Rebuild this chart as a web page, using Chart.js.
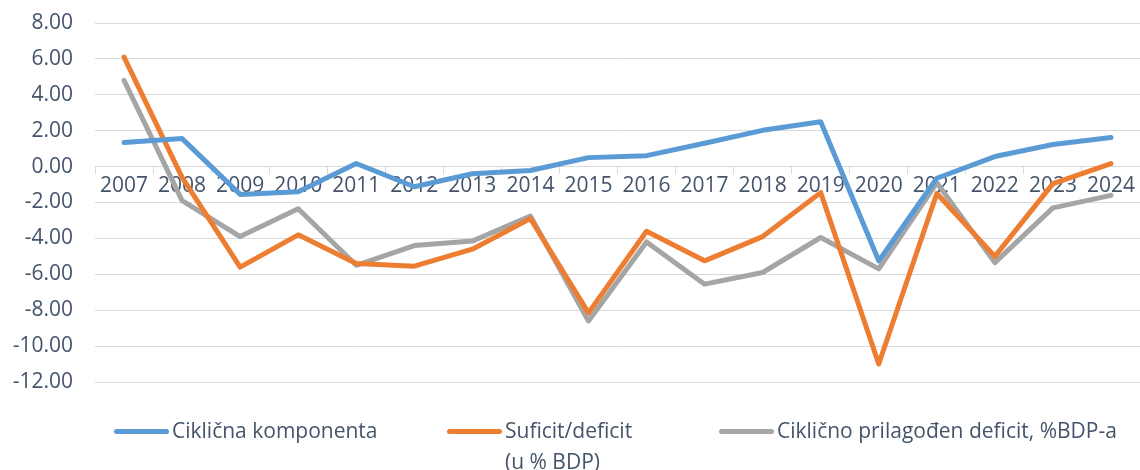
<!DOCTYPE html>
<html>
<head>
<meta charset="utf-8">
<script src="https://cdn.jsdelivr.net/npm/chart.js@4.4.1/dist/chart.umd.min.js"></script>
<style>
  body { margin: 0; background: #fff; }
  #wrap { position: relative; width: 1140px; height: 470px; font-family: "Open Sans", sans-serif; }
  .lg { position: absolute; color: #44546A; font-size: 21px; line-height: 31px; white-space: nowrap; }
  .sw { position: absolute; height: 5px; border-radius: 3px; }
</style>
</head>
<body>
<div id="wrap">
  <canvas id="chart" width="1140" height="470"></canvas>
  <span class="sw" style="left:114px;top:429px;width:55px;background:#5B9BD5"></span>
  <span class="lg" style="left:172px;top:415px">Ciklična komponenta</span>
  <span class="sw" style="left:447px;top:429px;width:55px;background:#ED7D31"></span>
  <span class="lg" style="left:505px;top:415px">Suficit/deficit<br>(u % BDP)</span>
  <span class="sw" style="left:719px;top:429px;width:55px;background:#A5A5A5"></span>
  <span class="lg" style="left:777px;top:415px">Ciklično prilagođen deficit, %BDP-a</span>
</div>
<script>
const years = ['2007', '2008', '2009', '2010', '2011', '2012', '2013', '2014', '2015', '2016', '2017', '2018', '2019', '2020', '2021', '2022', '2023', '2024'];
const ciklicna = [1.34, 1.56, -1.55, -1.4, 0.17, -1.12, -0.4, -0.22, 0.5, 0.61, 1.3, 2.02, 2.5, -5.25, -0.65, 0.56, 1.23, 1.62];
const suficit = [6.1, -0.6, -5.6, -3.8, -5.4, -5.55, -4.6, -2.9, -8.15, -3.6, -5.25, -3.9, -1.45, -11.0, -1.5, -5.0, -0.95, 0.17];
const prilagodjen = [4.8, -1.9, -3.9, -2.35, -5.5, -4.4, -4.15, -2.75, -8.6, -4.2, -6.55, -5.9, -3.95, -5.7, -0.9, -5.35, -2.3, -1.6];
const yTicksMin = -12;
const yTicksMax = 8;

const tickFont = { family: 'Open Sans', size: 21 };
const textColor = '#44546A';
const gridColor = '#D9D9D9';

function line(label, data, color) {
  return {
    label: label,
    data: data,
    borderColor: color,
    backgroundColor: color,
    borderWidth: 5,
    pointRadius: 0,
    tension: 0,
    borderCapStyle: 'round',
    borderJoinStyle: 'round'
  };
}

new Chart(document.getElementById('chart').getContext('2d'), {
  type: 'line',
  data: {
    labels: years,
    datasets: [
      line('Ciklična komponenta', ciklicna, '#5B9BD5'),
      line('Suficit/deficit (u % BDP)', suficit, '#ED7D31'),
      line('Ciklično prilagođen deficit, %BDP-a', prilagodjen, '#A5A5A5')
    ]
  },
  options: {
    responsive: false,
    animation: false,
    devicePixelRatio: 1,
    layout: { padding: { top: 23, bottom: 88, left: 0, right: 0 } },
    plugins: {
      legend: { display: false },
      tooltip: { enabled: false }
    },
    scales: {
      x: {
        type: 'category',
        position: { y: 0 },
        offset: true,
        grid: { drawOnChartArea: false, drawTicks: true, tickLength: 7, color: gridColor, offset: true },
        border: { color: gridColor, width: 1 },
        ticks: { color: textColor, font: tickFont, padding: 0, maxRotation: 0, autoSkip: false }
      },
      y: {
        min: yTicksMin,
        max: yTicksMax,
        afterFit: function(scale) {
          scale.width = 95;
          scale.paddingTop = 0;
          scale.paddingBottom = 0;
        },
        grid: { color: gridColor, drawTicks: false },
        border: { display: false },
        ticks: {
          stepSize: 2,
          padding: 22,
          color: textColor,
          font: tickFont,
          callback: function(v) { return v.toFixed(2); }
        }
      }
    }
  }
});
</script>
</body>
</html>
